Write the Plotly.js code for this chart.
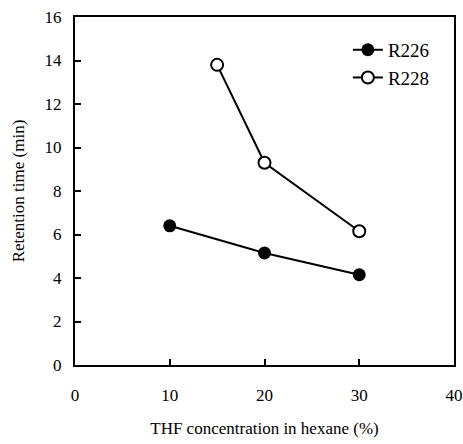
<!DOCTYPE html>
<html>
<head>
<meta charset="utf-8">
<script src="https://cdn.plot.ly/plotly-3.0.1.min.js"></script>
<style>body{margin:0;padding:0;background:#fff}#chart{width:463px;height:444px}</style>
</head>
<body>
<div id="chart"></div>
<script>
const seriesNames = ["R226", "R228"];
const r226X = [10, 20, 30];
const r226Y = [6.4, 5.15, 4.15];
const r228X = [15, 20, 30];
const r228Y = [13.8, 9.3, 6.15];
const xTicks = [0, 10, 20, 30, 40];
const yTicks = [0, 2, 4, 6, 8, 10, 12, 14, 16];

const fam = "Liberation Serif";
const font = {family: fam, color: "#000", size: 17};
const legFont = {family: fam, color: "#000", size: 19};

const traces = [
  {x: r226X, y: r226Y, name: seriesNames[0], mode: "lines+markers",
   line: {color: "#000", width: 2},
   marker: {symbol: "circle", size: 13, color: "#000"}},
  {x: r228X, y: r228Y, name: seriesNames[1], mode: "lines+markers",
   line: {color: "#000", width: 2},
   marker: {symbol: "circle", size: 12, color: "#fff", line: {color: "#000", width: 2}}}
];

const axisCommon = {showgrid: false, zeroline: false, showline: true, linecolor: "#000", linewidth: 2,
  mirror: true, ticks: "inside", ticklen: 6, tickwidth: 2, tickcolor: "#000",
  tickfont: {family: fam, color: "#000", size: 17}};

const layout = {
  width: 463, height: 444,
  margin: {l: 75, r: 9, t: 17, b: 79},
  paper_bgcolor: "#fff", plot_bgcolor: "#fff",
  font: {family: fam, color: "#000", size: 17},
  showlegend: true,
  legend: {x: 0.72, y: 0.96, xanchor: "left", yanchor: "top", bgcolor: "rgba(0,0,0,0)",
    font: legFont, itemwidth: 30, tracegroupgap: 0},
  xaxis: Object.assign({}, axisCommon, {range: [0, 40], tickvals: xTicks, ticklabelstandoff: 14,
    title: {text: "THF concentration in hexane (%)", font: font, standoff: 18}}),
  yaxis: Object.assign({}, axisCommon, {range: [0, 16], tickvals: yTicks, ticklabelstandoff: 8,
    title: {text: "Retention time (min)", font: font, standoff: 16}})
};

Plotly.newPlot("chart", traces, layout, {displayModeBar: false, staticPlot: true});
</script>
</body>
</html>
